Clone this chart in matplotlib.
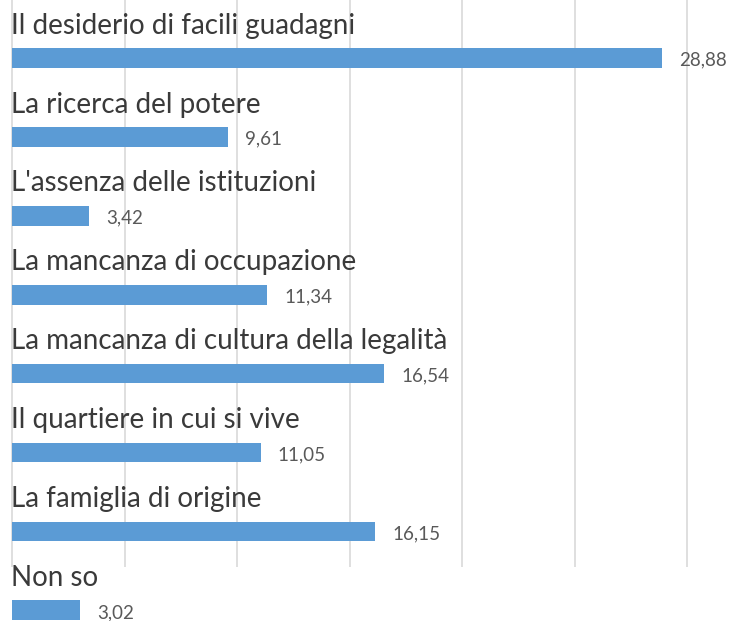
import numpy as np
import matplotlib.pyplot as plt

# ---- data ----
categories = ['Il desiderio di facili guadagni',
              'La ricerca del potere',
              "L'assenza delle istituzioni",
              'La mancanza di occupazione',
              'La mancanza di cultura della legalità',
              'Il quartiere in cui si vive',
              'La famiglia di origine',
              'Non so']
values = [28.88, 9.61, 3.42, 11.34, 16.54, 11.05, 16.15, 3.02]
grid_ticks = [0, 5, 10, 15, 20, 25, 30]

bar_color = '#5B9BD5'
text_color = '#3A3A3A'
value_color = '#595959'

fig = plt.figure(figsize=(7.32, 6.21), dpi=100)
ax = fig.add_axes([0, 0, 1, 1])

y = np.arange(len(categories))

# vertical gridlines (stop above the last category)
ax.vlines(grid_ticks, -0.8, 6.45, color='#D9D9D9', linewidth=1.2, zorder=0)

ax.barh(y, values, height=0.25, color=bar_color, zorder=2)

for i in range(len(categories)):
    ax.text(-0.05, y[i] - 0.41, categories[i], ha='left', va='center',
            fontsize=20, family='Lato', color=text_color, zorder=3)
    ax.text(values[i] + 0.75, y[i] + 0.03, ('%.2f' % values[i]).replace('.', ','),
            ha='left', va='center', fontsize=13.5, family='Lato',
            color=value_color, zorder=3)

ax.set_xlim(-12 / 22.5, 720 / 22.5)
ax.set_ylim(7.135, -0.735)
ax.axis('off')

fig.savefig('out.png', dpi=100, facecolor='white')
